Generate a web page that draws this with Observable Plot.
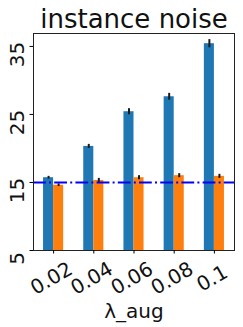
<!DOCTYPE html>
<html>
<head>
<meta charset="utf-8">
<script src="https://cdn.jsdelivr.net/npm/d3@7"></script>
<script src="https://cdn.jsdelivr.net/npm/@observablehq/plot@0.6"></script>
<style>
  html, body { margin: 0; padding: 0; background: white; }
</style>
</head>
<body>
<div id="chart"></div>
<script>
const title = "instance noise";
const xLabel = "λ_aug";
const categories = ["0.02", "0.04", "0.06", "0.08", "0.1"];
const blueValues = [15.7, 20.3, 25.4, 27.6, 35.4];
const blueErrors = [0.2, 0.3, 0.45, 0.5, 0.6];
const orangeValues = [14.6, 15.3, 15.7, 16.0, 15.9];
const orangeErrors = [0.2, 0.3, 0.3, 0.3, 0.3];
const referenceLine = 15;
const yTicks = [5, 15, 25, 35];
const yDomain = [5, 36.9];
const colors = ["#1f77b4", "#ff7f0e"];

const rows = [];
categories.forEach((c, i) => {
  rows.push({i, s: 0, value: blueValues[i], err: blueErrors[i]});
  rows.push({i, s: 1, value: orangeValues[i], err: orangeErrors[i]});
});
const barW = 0.25;
const left = d => d.i - barW + d.s * barW;
const mid = d => left(d) + barW / 2;

const plot = Plot.plot({
  width: 243,
  height: 327,
  marginTop: 33,
  marginRight: 9,
  marginBottom: 77,
  marginLeft: 33,
  style: {fontFamily: "DejaVu Sans", background: "white", overflow: "visible"},
  x: {domain: [-0.5, categories.length - 0.5], axis: null},
  y: {domain: yDomain, axis: null},
  marks: [
    Plot.rectY(rows, {x1: left, x2: d => left(d) + barW, y1: () => yDomain[0], y2: "value", fill: d => colors[d.s], clip: true}),
    Plot.ruleX(rows, {x: mid, y1: d => d.value - d.err, y2: d => d.value + d.err, stroke: "#1a1a1a", strokeWidth: 2}),
    Plot.ruleY([referenceLine], {stroke: "#0000ff", strokeWidth: 2, strokeDasharray: "12.8,3.2,2,3.2"}),
    Plot.frame({stroke: "#222", strokeWidth: 1}),
    Plot.axisY({ticks: yTicks, tickSize: 3.5, tickFormat: () => "", label: null}),
    Plot.axisX({ticks: d3.range(categories.length), tickSize: 3.5, tickFormat: () => "", label: null}),
    Plot.text(yTicks, {y: d => d, text: d => String(d), frameAnchor: "left", dx: -16, dy: 8, rotate: -90, textAnchor: "middle", lineAnchor: "middle", fontSize: 20, fill: "#111"}),
    Plot.text(categories, {x: (d, i) => i, text: d => d, frameAnchor: "bottom", dx: -2, dy: 28, rotate: -30, textAnchor: "middle", lineAnchor: "middle", fontSize: 20, fill: "#111"}),
    Plot.text([xLabel], {frameAnchor: "bottom", dy: 67, lineAnchor: "bottom", fontSize: 20, fill: "#111"}),
    Plot.text([title], {frameAnchor: "top", dy: -6, lineAnchor: "bottom", fontSize: 26, fill: "#111"})
  ]
});
document.getElementById("chart").appendChild(plot);
</script>
</body>
</html>
